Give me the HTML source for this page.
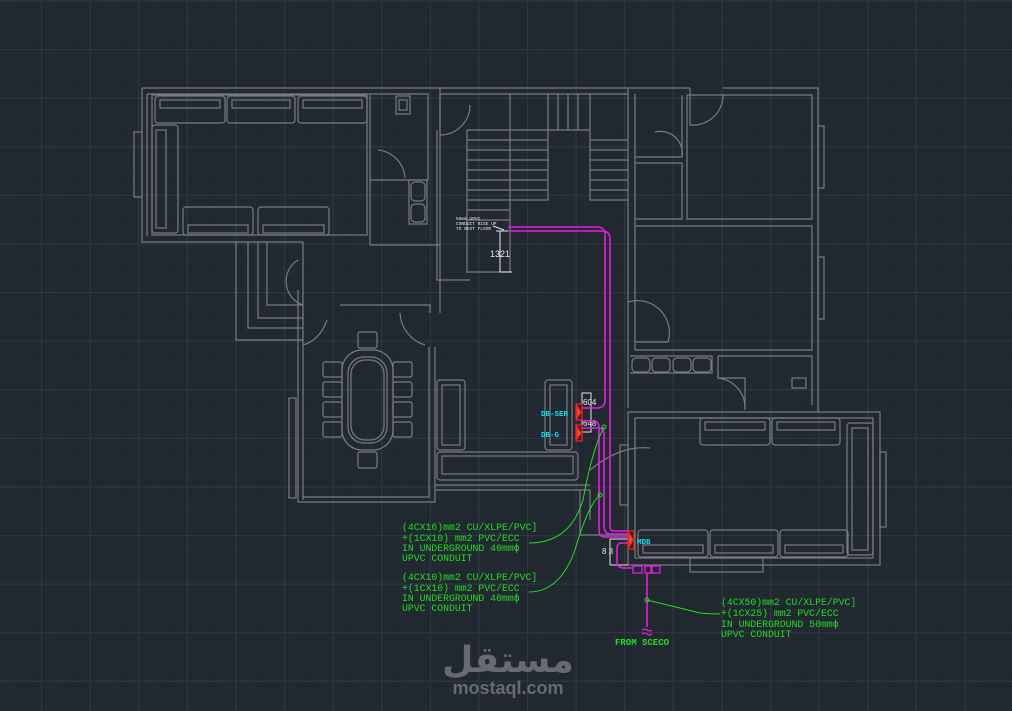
<!DOCTYPE html>
<html><head><meta charset="utf-8"><style>
html,body{margin:0;padding:0;background:#212830;}
svg{display:block}
.m{font-family:"Liberation Mono",monospace}
.s{font-family:"Liberation Sans",sans-serif}
</style></head><body>
<svg width="1012" height="711" viewBox="0 0 1012 711" xmlns="http://www.w3.org/2000/svg">
<defs>
<pattern id="minor" x="41" y="49" width="9.72" height="9.72" patternUnits="userSpaceOnUse">
<path d="M0 0V9.72M0 0H9.72" stroke="#262d38" stroke-width="1" fill="none"/>
</pattern>
<pattern id="major" x="41" y="49" width="48.6" height="48.6" patternUnits="userSpaceOnUse">
<path d="M0.5 0V48.6M0 0.5H48.6" stroke="#2f3745" stroke-width="1.2" fill="none"/>
</pattern>
</defs>
<rect width="1012" height="711" fill="#212830"/>
<rect width="1012" height="711" fill="url(#minor)"/>
<rect width="1012" height="711" fill="url(#major)"/>

<g fill="none" stroke="#787c82" stroke-width="1.2">
<path d="M142 88H440V313M147 94H428V180M142 88V242H303M147 94V236"/>
<rect x="152" y="95" width="215" height="140"/>
<rect x="134" y="132" width="8" height="65"/>
<rect x="155" y="96" width="70" height="27" rx="3"/><rect x="160" y="100" width="60" height="8"/>
<rect x="227" y="96" width="68" height="27" rx="3"/><rect x="232" y="100" width="58" height="8"/>
<rect x="298" y="96" width="69" height="27" rx="3"/><rect x="303" y="100" width="59" height="8"/>
<rect x="152" y="125" width="26" height="108" rx="3"/><rect x="156" y="130" width="10" height="98"/>
<rect x="183" y="207" width="70" height="28" rx="3"/><rect x="188" y="225" width="60" height="8"/>
<rect x="258" y="207" width="71" height="28" rx="3"/><rect x="263" y="225" width="61" height="8"/>
<path d="M370 95V180H428M370 180V245M370 245H440"/>
<rect x="396" y="96" width="14" height="18"/><rect x="399" y="100" width="8" height="10"/>
<rect x="409" y="180" width="18" height="44"/><rect x="411" y="182" width="14" height="19" rx="4"/><rect x="411" y="204" width="14" height="18" rx="4"/>
<path d="M378 150A30 30 0 0 1 405 178"/>
<path d="M236 242V340H303M248 242V328H303M258 242V318H303M267 242V305H303"/>
<path d="M303 242V500M298 290V502H435V347M303 290V497H429V347"/>
<path d="M303 305A25 25 0 0 1 298 260M303 345Q320 340 327 320"/>
<path d="M340 305H430V313M400 313A35 35 0 0 0 425 345"/>
<rect x="289" y="398" width="7" height="100"/>
<rect x="342" y="350" width="51" height="100" rx="20"/>
<rect x="348" y="357" width="39" height="86" rx="16"/>
<rect x="351" y="360" width="33" height="80" rx="14"/>
<g>
<rect x="323" y="362" width="19" height="15" rx="2"/><rect x="323" y="382" width="19" height="15" rx="2"/>
<rect x="323" y="402" width="19" height="15" rx="2"/><rect x="323" y="422" width="19" height="15" rx="2"/>
<rect x="393" y="362" width="19" height="15" rx="2"/><rect x="393" y="382" width="19" height="15" rx="2"/>
<rect x="393" y="402" width="19" height="15" rx="2"/><rect x="393" y="422" width="19" height="15" rx="2"/>
<rect x="358" y="332" width="19" height="16" rx="2"/><rect x="358" y="452" width="19" height="16" rx="2"/>
</g>
<path d="M440 88H628M440 94H628M467 130V272H510M467 130H510V272M510 94V200H548V130H590V200H628"/>
<path d="M467 140H510M467 150H510M467 160H510M467 170H510M467 180H510M467 190H510M467 200H510M467 210H510M467 220H510"/>
<path d="M510 130H548M510 140H548M510 150H548M510 160H548M510 170H548M510 180H548M510 190H548"/>
<path d="M590 140H628M590 150H628M590 160H628M590 170H628M590 180H628M590 190H628"/>
<path d="M548 94V130M558 94V130M568 94V130M578 94V130M590 94V130"/>
<path d="M437 130V280H470M440 100V135M440 135A30 30 0 0 0 470 105"/>
<path d="M628 88V408M635 94V350M723 88H818V412M687 95H812V219H687ZM635 226H812V350H635"/>
<path d="M628 88H690M635 157H682V95M635 163H682V219H635M682 157A22 22 0 0 0 655 132"/>
<path d="M690 88V125A30 30 0 0 0 723 95"/>
<rect x="818" y="126" width="6" height="62"/><rect x="818" y="257" width="6" height="62"/>
<path d="M628 302A32 32 0 0 1 668 342H635"/>
<path d="M630 356H712V373H630M718 356H812V405M718 356V378H745V410"/>
<rect x="632" y="358" width="18" height="14" rx="4"/><rect x="652" y="358" width="18" height="14" rx="4"/><rect x="673" y="358" width="18" height="14" rx="4"/><rect x="693" y="358" width="18" height="14" rx="4"/>
<rect x="792" y="378" width="14" height="10"/>
<path d="M718 378A30 30 0 0 1 745 408"/>
<rect x="437" y="380" width="28" height="70" rx="3"/><rect x="442" y="385" width="18" height="60"/>
<rect x="545" y="380" width="27" height="70" rx="3"/><rect x="550" y="385" width="17" height="60"/>
<rect x="437" y="452" width="141" height="28" rx="3"/><rect x="442" y="456" width="131" height="18"/>
<path d="M435 485H590M435 490H590V520M580 490V535H628"/>
<path d="M590 470Q620 445 650 448"/>
<rect x="628" y="412" width="252" height="153"/>
<rect x="635" y="418" width="238" height="140"/>
<rect x="700" y="418" width="70" height="27" rx="3"/><rect x="705" y="422" width="60" height="8"/>
<rect x="772" y="418" width="68" height="27" rx="3"/><rect x="777" y="422" width="58" height="8"/>
<rect x="847" y="423" width="26" height="132" rx="3"/><rect x="852" y="428" width="16" height="122"/>
<rect x="638" y="530" width="70" height="27" rx="3"/><rect x="643" y="545" width="60" height="8"/>
<rect x="710" y="530" width="68" height="27" rx="3"/><rect x="715" y="545" width="58" height="8"/>
<rect x="780" y="530" width="68" height="27" rx="3"/><rect x="785" y="545" width="58" height="8"/>
<rect x="690" y="558" width="73" height="14"/>
<rect x="880" y="452" width="6" height="75"/>
<rect x="620" y="445" width="8" height="60"/>
</g>

<g fill="none" stroke="#e8e8e8" stroke-width="1">
<path d="M500 231V272H512M496 231H512"/>
<rect x="582" y="393" width="9" height="39"/>
<path d="M610 565V539H628M610 565H628"/>
<path d="M493 226L504 230"/>
</g>
<g fill="#e8e8e8" font-size="4.5" class="m">
<text x="456" y="220">50mm UPVC</text><text x="456" y="225">CONDUIT RISE UP</text><text x="456" y="230">TO NEXT FLOOR</text>
</g>
<text x="490" y="257" fill="#e8e8e8" font-size="9" class="s">1321</text>
<text x="583" y="405" fill="#e8e8e8" font-size="8" class="s">604</text>
<text x="583" y="426" fill="#e8e8e8" font-size="8" class="s">648</text>
<text x="602" y="554" fill="#e8e8e8" font-size="8" class="s">8 3</text>

<g fill="none" stroke="#e020e0" stroke-width="1.6">
<path d="M508 227H597Q605 227 605 235V400Q605 408 597 408H582"/>
<path d="M508 231H602Q610 231 610 239V527Q610 531 614 531H628"/>
<path d="M582 421H593Q599 421 599 427V530Q599 537 605 537H628"/>
<path d="M582 428H598Q604 428 604 434V525Q604 534 610 534H628"/>
<path d="M628 543H621Q617 543 617 549V562Q617 568 625 568H633"/>
<path d="M647 573V627"/>
</g>
<g fill="none" stroke="#e020e0" stroke-width="1.3">
<rect x="633" y="566" width="9" height="7"/><rect x="645" y="566" width="6" height="7"/><rect x="652" y="566" width="8" height="7"/>
<path d="M642 630q2.5-2 5 0t5 0M642 634q2.5-2 5 0t5 0"/>
</g>

<g stroke="#ff2020" stroke-width="1.2">
<rect x="576" y="404" width="6" height="16" fill="none"/><path d="M577 406L581 412L577 418Z" fill="#c86a30"/>
<rect x="576" y="425" width="6" height="16" fill="none"/><path d="M577 427L581 433L577 439Z" fill="#c86a30"/>
<rect x="628" y="531" width="6" height="18" fill="none"/><path d="M629 533L633 540L629 547Z" fill="#c86a30"/>
</g>
<g fill="#10e0f0" font-size="7.5" font-weight="bold" class="m">
<text x="541" y="416">DB-SER</text><text x="541" y="437">DB-G</text><text x="637" y="544">MDB</text>
</g>

<g fill="none" stroke="#22dd22" stroke-width="1">
<path d="M529 543Q570 543 583 500Q592 450 604 427"/>
<path d="M529 592Q560 592 575 550Q588 505 600 495"/>
<path d="M647 600L700 613Q710 614 720 614"/>
</g>
<g fill="none" stroke="#22dd22"><circle cx="604" cy="427" r="2"/><circle cx="600" cy="495" r="2"/><circle cx="647" cy="600" r="2"/></g>
<g fill="#22dd22" font-size="9.8" class="m">
<text x="402" y="530">(4CX16)mm2 CU/XLPE/PVC]</text>
<text x="402" y="541">+(1CX10) mm2 PVC/ECC</text>
<text x="402" y="551">IN UNDERGROUND 40mmϕ</text>
<text x="402" y="561">UPVC CONDUIT</text>
<text x="402" y="580">(4CX10)mm2 CU/XLPE/PVC]</text>
<text x="402" y="591">+(1CX10) mm2 PVC/ECC</text>
<text x="402" y="601">IN UNDERGROUND 40mmϕ</text>
<text x="402" y="611">UPVC CONDUIT</text>
<text x="721" y="605">(4CX50)mm2 CU/XLPE/PVC]</text>
<text x="721" y="616">+(1CX25) mm2 PVC/ECC</text>
<text x="721" y="627">IN UNDERGROUND 50mmϕ</text>
<text x="721" y="637">UPVC CONDUIT</text>
<text x="615" y="645" font-weight="bold" font-size="9">FROM SCECO</text>
</g>

<text x="508" y="672" fill="#676b71" font-size="36" font-weight="bold" text-anchor="middle" style="font-family:'Liberation Sans','DejaVu Sans',sans-serif">مستقل</text>
<text x="508" y="694" fill="#676b71" font-size="18" font-weight="bold" text-anchor="middle" style="font-family:'Liberation Sans',sans-serif">mostaql.com</text>
</svg>
</body></html>
